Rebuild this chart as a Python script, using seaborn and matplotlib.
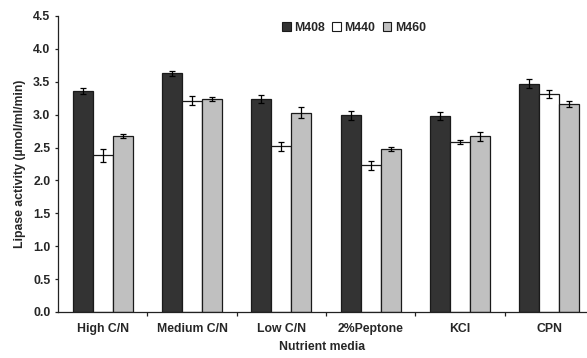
import numpy as np
import pandas as pd
import matplotlib
matplotlib.use("Agg")
import matplotlib.pyplot as plt
import seaborn as sns
from matplotlib.patches import Patch
from matplotlib.ticker import FixedLocator, FormatStrFormatter

media = ["High C/N", "Medium C/N", "Low C/N", "2%Peptone", "KCl", "CPN"]
strains = ["M408", "M440", "M460"]

m408 = [3.36, 3.63, 3.24, 2.99, 2.98, 3.47]
m440 = [2.38, 3.21, 2.52, 2.23, 2.59, 3.31]
m460 = [2.67, 3.24, 3.03, 2.48, 2.67, 3.16]

m408_err = [0.05, 0.035, 0.06, 0.07, 0.06, 0.07]
m440_err = [0.095, 0.07, 0.065, 0.065, 0.03, 0.06]
m460_err = [0.03, 0.035, 0.085, 0.035, 0.065, 0.05]

colors = ["#333333", "#ffffff", "#c0c0c0"]

sns.set_theme(style="white")
plt.rcParams["font.family"] = ["Liberation Sans", "DejaVu Sans"]
plt.rcParams["font.weight"] = "bold"

FS = 8.8

df = pd.DataFrame({
    "media": media * 3,
    "strain": np.repeat(strains, len(media)),
    "value": m408 + m440 + m460,
})
errs = [m408_err, m440_err, m460_err]

fig = plt.figure(figsize=(5.87, 3.58), dpi=100)
ax = fig.add_axes([58 / 587, 46 / 358, 1 - 58 / 587, (312 - 16) / 358])

sns.barplot(data=df, x="media", y="value", hue="strain", order=media,
            hue_order=strains, palette=colors, width=0.674, errorbar=None,
            edgecolor="#1a1a1a", linewidth=0.9, saturation=1, ax=ax,
            legend=False)

# error bars centred on each drawn bar
for cont, err in zip(ax.containers, errs):
    xs = [p.get_x() + p.get_width() / 2 for p in cont.patches]
    ys = [p.get_height() for p in cont.patches]
    ax.errorbar(xs, ys, yerr=err, fmt="none", ecolor="black",
                elinewidth=0.9, capsize=2.2, capthick=0.9, zorder=5)

ax.set_xlim(-0.5, 5.5 - 7 / 89)
ax.set_ylim(0, 4.5)
ax.set_yticks(np.arange(0, 4.51, 0.5))
ax.yaxis.set_major_formatter(FormatStrFormatter("%.1f"))
ax.xaxis.set_minor_locator(FixedLocator(np.arange(0.5, 5.0, 1.0)))

for s in ["top", "right"]:
    ax.spines[s].set_visible(False)
for s in ["left", "bottom"]:
    ax.spines[s].set_color("#222222")
    ax.spines[s].set_linewidth(0.9)

ax.tick_params(axis="y", which="major", direction="out", length=2.5,
               width=0.9, color="#222222", labelsize=FS, pad=3, left=True)
ax.tick_params(axis="x", which="major", length=0, labelsize=FS, pad=8)
ax.tick_params(axis="x", which="minor", direction="out", length=3,
               width=0.9, color="#222222", bottom=True)
for lab in ax.get_xticklabels() + ax.get_yticklabels():
    lab.set_fontweight("bold")

ax.set_xlabel("Nutrient media", fontsize=FS, fontweight="bold", labelpad=4)
ax.set_ylabel("Lipase activity (\u00b5mol/ml/min)", fontsize=FS,
              fontweight="bold", labelpad=5)

handles = [Patch(facecolor=c, edgecolor="#1a1a1a", linewidth=0.8)
           for c in colors]
ax.legend(handles, strains, loc="center",
          bbox_to_anchor=(354 / 587, 1 - 28 / 358),
          bbox_transform=fig.transFigure,
          ncol=3, frameon=False, handlelength=0.7, handleheight=0.7,
          handletextpad=0.3, columnspacing=0.6,
          prop={"size": FS, "weight": "bold"})

fig.savefig("out.png", dpi=100)
